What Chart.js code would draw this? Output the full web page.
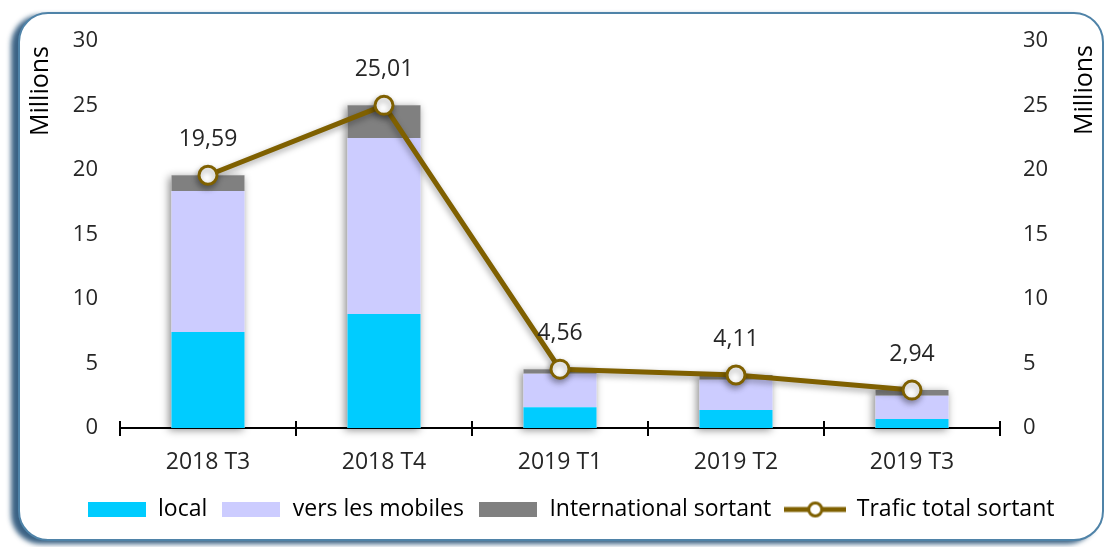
<!DOCTYPE html>
<html>
<head>
<meta charset="utf-8">
<script src="https://cdn.jsdelivr.net/npm/chart.js@4/dist/chart.umd.min.js"></script>
<style>
html, body { margin: 0; padding: 0; background: #fff; }
#wrap { position: relative; width: 1113px; height: 547px; overflow: hidden; }
#frame {
    position: absolute; left: 18px; top: 12px; width: 1086px; height: 529px;
    box-sizing: border-box; border: 2px solid #4f83a8; border-radius: 30px;
    box-shadow: -7px 3px 5px rgba(25, 70, 110, 0.85); background: #fff;
}
#c { position: absolute; left: 0; top: 0; }
</style>
</head>
<body>
<div id="wrap"><div id="frame"></div><canvas id="c" width="1113" height="547"></canvas></div>
<script>
const categories = ['2018 T3', '2018 T4', '2019 T1', '2019 T2', '2019 T3'];
const local = [7.44, 8.84, 1.60, 1.40, 0.70];
const mobiles = [10.93, 13.64, 2.60, 2.35, 1.80];
const international = [1.22, 2.53, 0.36, 0.36, 0.44];
const total = [19.59, 25.01, 4.56, 4.11, 2.94];

const colors = {
    local: '#00CCFF',
    mobiles: '#CCCCFF',
    international: '#808080',
    total: '#7F6000'
};

Chart.defaults.font.family = "'Open Sans', sans-serif";
Chart.defaults.color = '#262626';

// legend icons
function boxIcon(color) {
    const c = document.createElement('canvas');
    c.width = 58; c.height = 15;
    const g = c.getContext('2d');
    g.fillStyle = color;
    g.fillRect(0, 0, 58, 15);
    return c;
}
function lineIcon(color) {
    const c = document.createElement('canvas');
    c.width = 62; c.height = 18;
    const g = c.getContext('2d');
    g.strokeStyle = color;
    g.lineWidth = 5;
    g.beginPath(); g.moveTo(0, 9); g.lineTo(62, 9); g.stroke();
    g.fillStyle = '#fff';
    g.lineWidth = 3;
    g.beginPath(); g.arc(31, 9, 6.5, 0, Math.PI * 2); g.fill(); g.stroke();
    return c;
}

const shadows = {
    id: 'shadows',
    beforeDatasetsDraw(chart) {
        const ctx = chart.ctx;
        const tops = chart.getDatasetMeta(2).data;
        const bottoms = chart.getDatasetMeta(0).data;
        ctx.save();
        ctx.shadowColor = 'rgba(0,0,0,0.45)';
        ctx.shadowBlur = 8;
        ctx.shadowOffsetX = -2;
        ctx.shadowOffsetY = 2;
        ctx.fillStyle = '#fff';
        tops.forEach((bar, i) => {
            const b = bottoms[i];
            ctx.fillRect(bar.x - bar.width / 2, bar.y, bar.width, b.base - bar.y);
        });
        ctx.restore();
    },
    beforeDatasetDraw(chart, args) {
        if (chart.data.datasets[args.index].type === 'line') {
            const ctx = chart.ctx;
            ctx.save();
            ctx.shadowColor = 'rgba(0,0,0,0.35)';
            ctx.shadowBlur = 6;
            ctx.shadowOffsetX = -1;
            ctx.shadowOffsetY = 3;
        }
    },
    afterDatasetDraw(chart, args) {
        if (chart.data.datasets[args.index].type === 'line') chart.ctx.restore();
    }
};

const extras = {
    id: 'extras',
    afterDatasetsDraw(chart) {
        const ctx = chart.ctx;
        // value labels over the line
        const pts = chart.getDatasetMeta(3).data;
        ctx.save();
        ctx.font = "23px 'Open Sans', sans-serif";
        ctx.fillStyle = '#262626';
        ctx.textAlign = 'center';
        ctx.textBaseline = 'middle';
        pts.forEach((p, i) => {
            ctx.fillText(total[i].toFixed(2).replace('.', ','), p.x, p.y - 36);
        });
        // small upward part of the x ticks
        const xs = chart.scales.x;
        const step = (xs.right - xs.left) / categories.length;
        ctx.strokeStyle = '#000';
        ctx.lineWidth = 2;
        for (let i = 0; i <= categories.length; i++) {
            const x = Math.round(xs.left + i * step);
            ctx.beginPath(); ctx.moveTo(x, xs.top); ctx.lineTo(x, xs.top - 7); ctx.stroke();
        }
        // axis titles, both read bottom to top
        ctx.font = "500 25px 'Open Sans', sans-serif";
        ctx.fillStyle = '#000';
        [[41, 91], [1085, 90]].forEach(([x, y]) => {
            ctx.save();
            ctx.translate(x, y);
            ctx.rotate(-Math.PI / 2);
            ctx.fillText('Millions', 0, 0);
            ctx.restore();
        });
        ctx.restore();
    }
};

new Chart(document.getElementById('c'), {
    type: 'bar',
    data: {
        labels: categories,
        datasets: [
            { label: 'local', data: local, backgroundColor: colors.local, yAxisID: 'y', order: 1,
              categoryPercentage: 1, barPercentage: 0.415 },
            { label: 'vers les mobiles', data: mobiles, backgroundColor: colors.mobiles, yAxisID: 'y', order: 1,
              categoryPercentage: 1, barPercentage: 0.415 },
            { label: 'International sortant', data: international, backgroundColor: colors.international, yAxisID: 'y', order: 1,
              categoryPercentage: 1, barPercentage: 0.415 },
            { type: 'line', label: 'Trafic total sortant', data: total, yAxisID: 'y2', order: 0,
              borderColor: colors.total, borderWidth: 5, tension: 0,
              pointRadius: 9, pointBorderWidth: 3, pointBackgroundColor: '#fff', pointBorderColor: colors.total }
        ]
    },
    options: {
        responsive: false,
        animation: false,
        layout: { padding: { left: 28, right: 0, top: 41, bottom: 16 } },
        scales: {
            x: {
                stacked: true,
                grid: { offset: true, drawOnChartArea: false, color: '#000', lineWidth: 2, tickLength: 8 },
                border: { color: '#000', width: 2 },
                ticks: { font: { size: 23 }, color: '#262626', padding: 13 },
                afterFit: s => { s.height = 56; }
            },
            y: {
                stacked: true, min: 0, max: 30,
                ticks: { stepSize: 5, padding: 22, font: { size: 22 }, color: '#262626' },
                grid: { display: false, drawTicks: false },
                border: { display: false },
                afterFit: s => { s.width = 92; }
            },
            y2: {
                position: 'right', min: 0, max: 30,
                ticks: { stepSize: 5, padding: 23, font: { size: 22 }, color: '#262626' },
                grid: { display: false, drawTicks: false },
                border: { display: false },
                afterFit: s => { s.width = 113; }
            }
        },
        plugins: {
            tooltip: { enabled: false },
            legend: {
                position: 'bottom',
                labels: {
                    usePointStyle: true,
                    pointStyleWidth: 60,
                    padding: 14,
                    font: { size: 23 },
                    color: '#262626',
                    generateLabels: chart => chart.data.datasets.map((ds, i) => ({
                        text: ds.label,
                        pointStyle: ds.type === 'line' ? lineIcon(ds.borderColor) : boxIcon(ds.backgroundColor),
                        fillStyle: ds.backgroundColor,
                        strokeStyle: 'transparent',
                        lineWidth: 0,
                        hidden: false,
                        datasetIndex: i
                    }))
                }
            }
        }
    },
    plugins: [shadows, extras]
});
</script>
</body>
</html>
